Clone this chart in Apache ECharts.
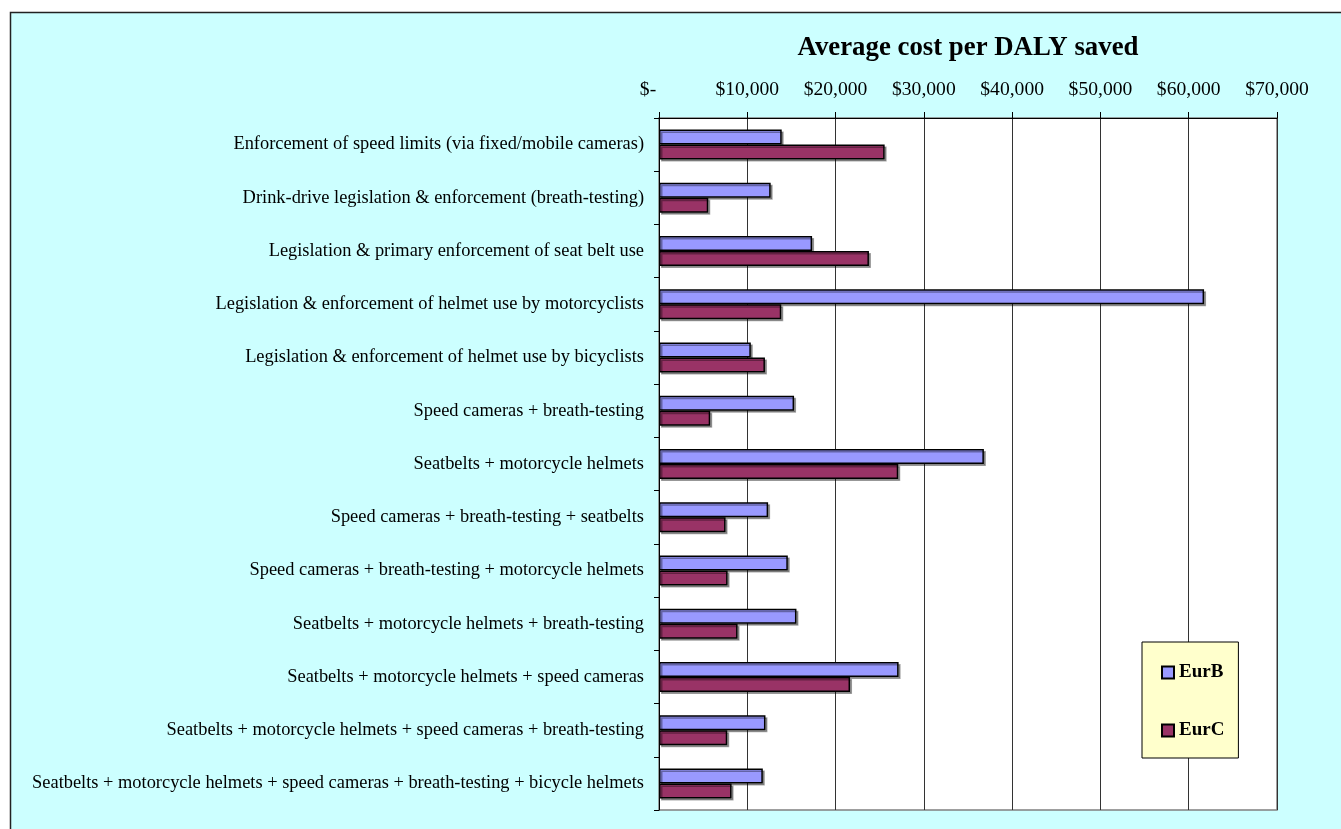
<!DOCTYPE html>
<html>
<head>
<meta charset="utf-8">
<title>Average cost per DALY saved</title>
<script src="https://cdn.jsdelivr.net/npm/echarts@6/dist/echarts.min.js"></script>
<style>
  html, body { margin: 0; padding: 0; background: #fff; }
  #chart { width: 1341px; height: 829px; }
</style>
</head>
<body>
<div id="chart"></div>
<script>
// interventions, top to bottom
const categories = [
  'Enforcement of speed limits (via fixed/mobile cameras)',
  'Drink-drive legislation & enforcement (breath-testing)',
  'Legislation & primary enforcement of seat belt use',
  'Legislation & enforcement of helmet use by motorcyclists',
  'Legislation & enforcement of helmet use by bicyclists',
  'Speed cameras + breath-testing',
  'Seatbelts + motorcycle helmets',
  'Speed cameras + breath-testing + seatbelts',
  'Speed cameras + breath-testing + motorcycle helmets',
  'Seatbelts + motorcycle helmets + breath-testing',
  'Seatbelts + motorcycle helmets + speed cameras',
  'Seatbelts + motorcycle helmets + speed cameras + breath-testing',
  'Seatbelts + motorcycle helmets + speed cameras + breath-testing + bicycle helmets'
]
const seriesNames = ['EurB', 'EurC']
const eurB = [13900, 12650, 17340, 61740, 10400, 15300, 36800, 12360, 14590, 15570, 27140, 12060, 11760]
const eurC = [25560, 5580, 23780, 13850, 12000, 5800, 27100, 7540, 7770, 8900, 21640, 7730, 8220]
const tickLabels = ['$-', '$10,000', '$20,000', '$30,000', '$40,000', '$50,000', '$60,000', '$70,000']

const font = '"Liberation Serif", "Times New Roman", serif'
const chart = echarts.init(document.getElementById('chart'))

const barStyle = (color) => ({
  color: color,
  borderColor: '#000',
  borderWidth: 1.5,
  shadowColor: 'rgba(0,0,0,0.35)',
  shadowOffsetX: 2,
  shadowOffsetY: 2
})

chart.setOption({
  backgroundColor: '#fff',
  animation: false,
  graphic: [
    {
      type: 'rect',
      z: -100,
      silent: true,
      shape: { x: 10.5, y: 12.5, width: 1400, height: 900 },
      style: { fill: '#CCFFFF', stroke: '#222', lineWidth: 1.5 }
    }
  ],
  title: {
    text: 'Average cost per DALY saved',
    left: 968,
    top: 35,
    textAlign: 'center',
    padding: 0,
    textStyle: { fontFamily: font, fontSize: 26.8, fontWeight: 'bold', color: '#000' }
  },
  legend: {
    data: seriesNames,
    orient: 'vertical',
    left: 1142,
    top: 642,
    padding: [21, 14, 18, 19],
    itemGap: 39,
    itemWidth: 12,
    itemHeight: 12,
    icon: 'rect',
    backgroundColor: '#FFFFCC',
    borderColor: '#000',
    borderWidth: 1,
    textStyle: { fontFamily: font, fontSize: 19, fontWeight: 'bold', color: '#000' }
  },
  grid: {
    left: 659,
    right: 64,
    top: 118,
    bottom: 19,
    show: true,
    backgroundColor: '#fff',
    borderColor: '#808080',
    borderWidth: 1.5
  },
  xAxis: {
    type: 'value',
    position: 'top',
    min: 0,
    max: 70000,
    interval: 10000,
    axisLine: { show: true, lineStyle: { color: '#000', width: 1 } },
    axisTick: { show: true, length: 6, lineStyle: { color: '#000' } },
    splitLine: { show: true, lineStyle: { color: '#333', width: 1 } },
    axisLabel: {
      margin: 18,
      fontFamily: font,
      fontSize: 19.6,
      color: '#000',
      formatter: (v) => {
        const i = Math.round(v / 10000)
        return i === 0 ? '{z|' + tickLabels[0] + '}' : tickLabels[i]
      },
      rich: {
        z: { fontFamily: font, fontSize: 19.6, color: '#000', padding: [0, 22, 0, 0] }
      }
    }
  },
  yAxis: {
    type: 'category',
    inverse: true,
    data: categories,
    axisLine: { show: true, lineStyle: { color: '#000', width: 1 } },
    axisTick: { show: true, length: 5, lineStyle: { color: '#000' } },
    axisLabel: { margin: 15, fontFamily: font, fontSize: 18.4, color: '#000' }
  },
  series: [
    {
      name: seriesNames[0],
      type: 'bar',
      data: eurB,
      barWidth: 15,
      barGap: '0%',
      itemStyle: barStyle('#9999FF')
    },
    {
      name: seriesNames[1],
      type: 'bar',
      data: eurC,
      barWidth: 15,
      barGap: '0%',
      itemStyle: barStyle('#993366')
    }
  ]
})
</script>
</body>
</html>
